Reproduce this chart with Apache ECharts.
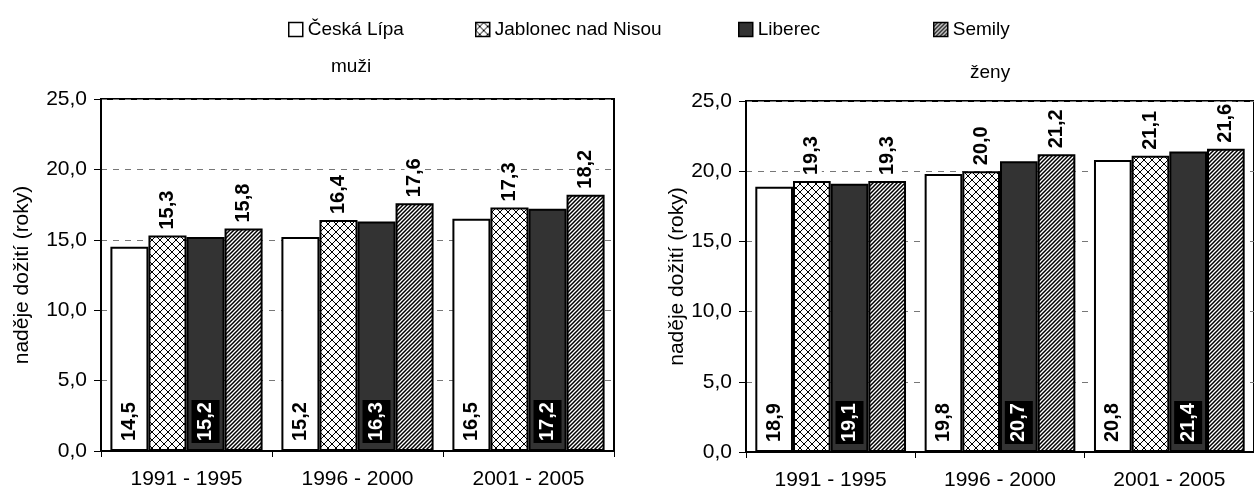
<!DOCTYPE html>
<html>
<head>
<meta charset="utf-8">
<script src="https://cdn.jsdelivr.net/npm/echarts@6/dist/echarts.min.js"></script>
<style>
html,body{margin:0;padding:0;background:#fff;}
#chart{width:1254px;height:491px;}
</style>
</head>
<body>
<div id="chart"></div>
<script>
// ---- data ----
const categories = ['1991 - 1995', '1996 - 2000', '2001 - 2005'];
const seriesNames = ['Česká Lípa', 'Jablonec nad Nisou', 'Liberec', 'Semily'];
const panelTitles = ['muži', 'ženy'];
const yAxisName = 'naděje dožití (roky)';
// muži (left panel)
const muziCeskaLipa = [14.5, 15.2, 16.5];
const muziJablonec = [15.3, 16.4, 17.3];
const muziLiberec = [15.2, 16.3, 17.2];
const muziSemily = [15.8, 17.6, 18.2];
// ženy (right panel)
const zenyCeskaLipa = [18.9, 19.8, 20.8];
const zenyJablonec = [19.3, 20.0, 21.1];
const zenyLiberec = [19.1, 20.7, 21.4];
const zenySemily = [19.3, 21.2, 21.6];
const yTicks = [0, 5, 10, 15, 20, 25];

const FONT = "'Liberation Sans', Arial, sans-serif";

function crossPattern() {
  const c = document.createElement('canvas');
  c.width = 8; c.height = 8;
  const g = c.getContext('2d');
  g.fillStyle = '#fff'; g.fillRect(0, 0, 8, 8);
  g.strokeStyle = '#000'; g.lineWidth = 1;
  g.beginPath();
  g.moveTo(0, 0); g.lineTo(8, 8);
  g.moveTo(8, 0); g.lineTo(0, 8);
  g.stroke();
  return c;
}
function hatchPattern() {
  const s = 4;
  const c = document.createElement('canvas');
  c.width = s; c.height = s;
  const g = c.getContext('2d');
  g.fillStyle = '#fff'; g.fillRect(0, 0, s, s);
  g.strokeStyle = '#000'; g.lineWidth = 1.5;
  g.beginPath();
  g.moveTo(-1, s + 1); g.lineTo(s + 1, -1);
  g.moveTo(-1, 1); g.lineTo(1, -1);
  g.moveTo(s - 1, s + 1); g.lineTo(s + 1, s - 1);
  g.stroke();
  return c;
}

const fills = [
  '#ffffff',
  { image: crossPattern(), repeat: 'repeat' },
  '#333333',
  { image: hatchPattern(), repeat: 'repeat' }
];

const fmt = p => p.value.toFixed(1).replace('.', ',');

const labelStyles = [
  { show: true, position: 'insideBottom', distance: 10, rotate: 90, align: 'left', verticalAlign: 'middle',
    color: '#000', fontWeight: 'bold', fontSize: 20, fontFamily: FONT, formatter: fmt },
  { show: true, position: 'top', distance: 4, rotate: 90, align: 'left', verticalAlign: 'middle',
    color: '#000', fontWeight: 'bold', fontSize: 20, fontFamily: FONT, formatter: fmt,
    backgroundColor: '#fff', padding: [0, 2] },
  { show: true, position: 'insideBottom', distance: 8, rotate: 90, align: 'left', verticalAlign: 'middle',
    color: '#fff', fontWeight: 'bold', fontSize: 20, fontFamily: FONT, formatter: fmt,
    backgroundColor: '#000', padding: [4, 2] },
  { show: true, position: 'top', distance: 4, rotate: 90, align: 'left', verticalAlign: 'middle',
    color: '#000', fontWeight: 'bold', fontSize: 20, fontFamily: FONT, formatter: fmt,
    backgroundColor: '#fff', padding: [0, 2] }
];

const panelData = [
  [muziCeskaLipa, muziJablonec, muziLiberec, muziSemily],
  [zenyCeskaLipa, zenyJablonec, zenyLiberec, zenySemily]
];

const series = [];
panelData.forEach((arrs, p) => {
  arrs.forEach((vals, i) => {
    series.push({
      type: 'bar',
      name: seriesNames[i],
      xAxisIndex: p,
      yAxisIndex: p,
      data: vals,
      barGap: '0%',
      barCategoryGap: '11%',
      itemStyle: { color: fills[i], borderColor: '#000', borderWidth: 2 },
      label: labelStyles[i],
      emphasis: { disabled: true },
      animation: false
    });
  });
});

const grids = [
  { left: 101, top: 99, width: 513, height: 352 },
  { left: 746, top: 101, width: 513, height: 351 }
];

function xAxisFor(idx) {
  return {
    type: 'category', gridIndex: idx, data: categories,
    axisLine: { lineStyle: { color: '#000', width: 2 } },
    axisTick: { show: true, length: 6, lineStyle: { color: '#000', width: 1 } },
    axisLabel: { color: '#000', fontSize: 21, fontFamily: FONT, margin: 18 },
    splitLine: { show: false }
  };
}
function yAxisFor(idx, gap) {
  return {
    type: 'value', gridIndex: idx, min: 0, max: 25, interval: 5,
    name: yAxisName, nameLocation: 'middle', nameGap: gap,
    nameTextStyle: { color: '#000', fontSize: 21, fontFamily: FONT },
    axisLine: { show: true, lineStyle: { color: '#000', width: 2 } },
    axisTick: { show: true, length: 7, lineStyle: { color: '#000', width: 1 } },
    axisLabel: { color: '#000', fontSize: 21, fontFamily: FONT, margin: 14,
      formatter: v => yTicks.indexOf(v) >= 0 ? v.toFixed(1).replace('.', ',') : '' },
    splitLine: { show: true, lineStyle: { color: '#777', type: [6, 6], width: 1 } }
  };
}

const legendLeft = [283, 470, 733, 928];
const option = {
  backgroundColor: '#fff',
  animation: false,
  title: [
    { text: panelTitles[0], left: 326, top: 52, textStyle: { color: '#000', fontSize: 19, fontWeight: 'normal', fontFamily: FONT } },
    { text: panelTitles[1], left: 965, top: 58, textStyle: { color: '#000', fontSize: 19, fontWeight: 'normal', fontFamily: FONT } }
  ],
  legend: seriesNames.map((n, i) => ({
    data: [n], left: legendLeft[i], top: 15, icon: 'rect', itemWidth: 14, itemHeight: 14,
    selectedMode: false,
    textStyle: { color: '#000', fontSize: 19, fontFamily: FONT },
    itemStyle: { borderColor: '#000', borderWidth: 1.5 }
  })),
  grid: grids.map(g => Object.assign({ show: true, borderColor: '#000', borderWidth: 2, backgroundColor: 'transparent' }, g)),
  xAxis: [xAxisFor(0), xAxisFor(1)],
  yAxis: [yAxisFor(0, 68), yAxisFor(1, 58)],
  series: series
};

const chart = echarts.init(document.getElementById('chart'), null, { renderer: 'canvas' });
chart.setOption(option);
</script>
</body>
</html>
